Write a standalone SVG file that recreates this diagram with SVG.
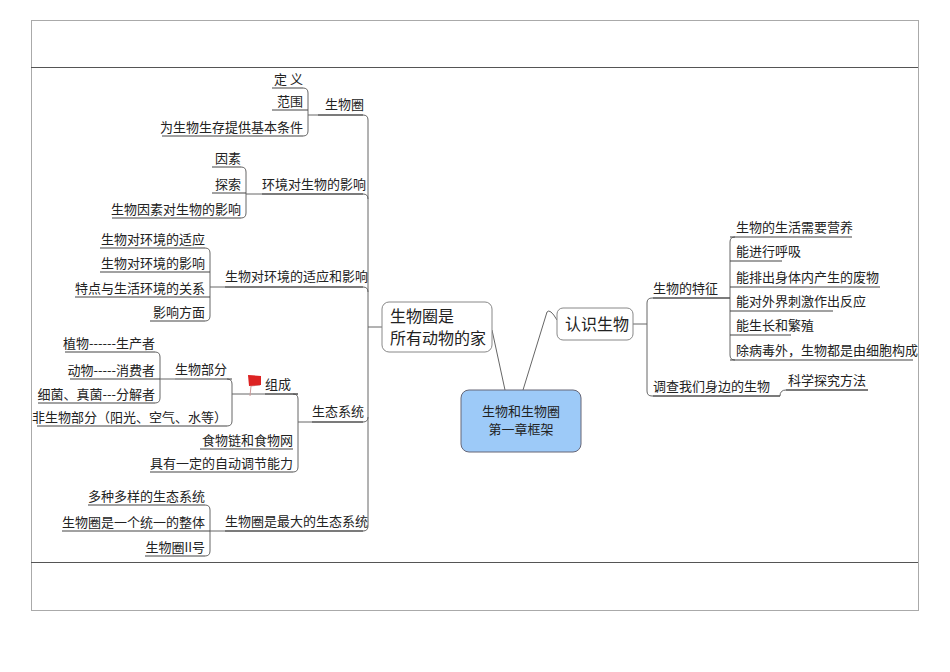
<svg xmlns="http://www.w3.org/2000/svg" width="950" height="672" viewBox="0 0 950 672">
<style>
text{font-family:"Noto Sans CJK SC","Noto Sans",sans-serif;font-size:13px;fill:#222}
.l{text-anchor:end}
.c{fill:none;stroke:#666;stroke-width:1}
.u{fill:none;stroke:#444;stroke-width:1.2}
</style>
<rect x="0" y="0" width="950" height="672" fill="#fff"/>
<rect x="31.5" y="20.5" width="887" height="590" fill="none" stroke="#aaa"/>
<line x1="31" y1="67.5" x2="918" y2="67.5" stroke="#555"/>
<line x1="31" y1="562.5" x2="918" y2="562.5" stroke="#555"/>
<g id="connectors">
<path class="c" d="M382 327H368M368 120V526M318 115H363Q368 115 368 120M262 194H363Q368 194 368 199M225 287H363Q368 287 368 292M312 422H363Q368 422 368 417M225 531H363Q368 531 368 526"/>
<path class="c" d="M308 115H318M303 88Q308 88 308 93V131Q308 136 303 136"/>
<path class="c" d="M246 194H262M241 167Q246 167 246 172V213Q246 218 241 218"/>
<path class="c" d="M210 287H225M205 248Q210 248 210 253V316Q210 321 205 321"/>
<path class="c" d="M298 422H312M293 394Q298 394 298 399V467Q298 472 293 472"/>
<path class="c" d="M232 394H298M227 379Q232 379 232 384V421Q232 426 227 426"/>
<path class="c" d="M160 379H175M155 352Q160 352 160 357V398Q160 403 155 403"/>
<path class="c" d="M210 531H225M205 505Q210 505 210 510V551Q210 556 205 556"/>
<path class="u" d="M272 88H303M272 110H308M162 136H303M212 167H241M212 193H246M112 218H241M100 248H205M100 272H210M75 297H210M150 321H205M65 352H155M70 379H160M38 403H155M37 426H227M175 379H232M265 394H298M200 449H293M150 472H293M88 505H205M62 531H210M145 556H205M318 115H363M262 194H363M225 287H363M312 422H363M225 531H363"/>
<path class="c" d="M505 390L492 330M523 390L547 312Q550 308 557 320"/>
<path class="c" d="M633 324H647M647 303Q647 298 652 298H730M647 303V391Q647 396 652 396H780M735 237Q730 237 730 242V355Q730 360 735 360M780 396Q780 390 786 390H868"/>
<path class="u" d="M653 298H730M730 237H852M730 261H782M730 287H880M730 311H833M730 335H791M730 360H913M653 396H780M786 390H868"/>
</g>
<g id="center"><rect x="461" y="390" width="120" height="62" rx="8" fill="#9dcaf8" stroke="#667"/><text x="521" y="416" text-anchor="middle">生物和生物圈</text><text x="521" y="434" text-anchor="middle">第一章框架</text></g>
<g id="home"><rect x="382" y="302" width="110" height="50" rx="7" fill="#fff" stroke="#888"/><text x="390" y="322" style="font-size:16px">生物圈是</text><text x="390" y="344" style="font-size:16px">所有动物的家</text></g>
<g id="know"><rect x="557" y="308" width="76" height="32" rx="6" fill="#fff" stroke="#888"/><text x="565" y="330" style="font-size:16px">认识生物</text></g>
<g id="n1"><text x="325" y="109">生物圈</text><text class="l" x="303" y="84">定 义</text><text class="l" x="303" y="106">范围</text><text class="l" x="303" y="132">为生物生存提供基本条件</text></g>
<g id="n2"><text x="262" y="189">环境对生物的影响</text><text class="l" x="241" y="163">因素</text><text class="l" x="241" y="189">探索</text><text class="l" x="241" y="214">生物因素对生物的影响</text></g>
<g id="n3"><text x="225" y="281">生物对环境的适应和影响</text><text class="l" x="205" y="244">生物对环境的适应</text><text class="l" x="205" y="268">生物对环境的影响</text><text class="l" x="205" y="293">特点与生活环境的关系</text><text class="l" x="205" y="317">影响方面</text></g>
<g id="n4"><text x="312" y="416">生态系统</text>
<path d="M248 376L260 377V385L251 386L250 396" fill="none" stroke="#c99" stroke-width="1"/><path d="M248 375L261 376V385L249 386Z" fill="#d22"/>
<text x="265" y="389">组成</text><text x="175" y="374">生物部分</text>
<text class="l" x="155" y="348">植物------生产者</text><text class="l" x="155" y="375">动物-----消费者</text><text class="l" x="155" y="399">细菌、真菌---分解者</text><text class="l" x="227" y="422">非生物部分（阳光、空气、水等）</text>
<text class="l" x="293" y="445">食物链和食物网</text><text class="l" x="293" y="468">具有一定的自动调节能力</text></g>
<g id="n5"><text x="225" y="526">生物圈是最大的生态系统</text><text class="l" x="205" y="501">多种多样的生态系统</text><text class="l" x="205" y="527">生物圈是一个统一的整体</text><text class="l" x="205" y="552">生物圈II号</text></g>
<g id="r1"><text x="653" y="293">生物的特征</text><text x="736" y="232">生物的生活需要营养</text><text x="736" y="256">能进行呼吸</text><text x="736" y="282">能排出身体内产生的废物</text><text x="736" y="306">能对外界刺激作出反应</text><text x="736" y="330">能生长和繁殖</text><text x="736" y="355">除病毒外，生物都是由细胞构成</text></g>
<g id="r2"><text x="653" y="391">调查我们身边的生物</text><text x="788" y="385">科学探究方法</text></g>
</svg>
